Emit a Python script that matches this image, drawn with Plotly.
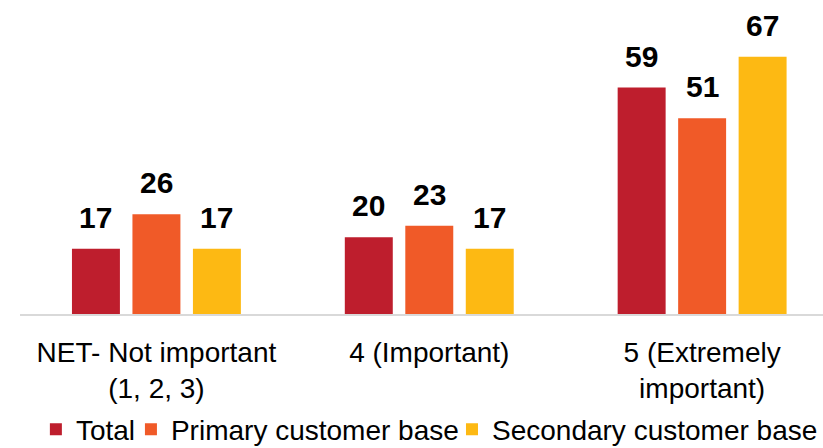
import plotly.graph_objects as go

categories = ["NET- Not important<br>(1, 2, 3)", "4 (Important)", "5 (Extremely<br>important)"]
series_names = ["Total", "Primary customer base", "Secondary customer base"]
total = [17, 20, 59]
primary = [26, 23, 51]
secondary = [17, 17, 67]
colors = ["#BE1E2D", "#F05A28", "#FDB913"]

BARGAP = 0.335
BARGROUPGAP = 0.207
FONT = "Liberation Sans, Arial, sans-serif"

# each series gets its own legend box so the entries can be spaced freely
legend_ids = ["legend", "legend2", "legend3"]
legend_x = [0.0436, 0.1591, 0.5492]

fig = go.Figure()
all_series = [total, primary, secondary]
for name, vals, col, lid in zip(series_names, all_series, colors, legend_ids):
    fig.add_trace(go.Bar(
        x=categories, y=vals, name=name, legend=lid,
        marker=dict(color=col, line=dict(width=0)),
    ))

# value labels above each bar, centred on the bar's slot in the group
n = len(all_series)
slot = (1 - BARGAP) / n
for i, vals in enumerate(all_series):
    off = (i - (n - 1) / 2) * slot
    for j, v in enumerate(vals):
        fig.add_annotation(
            x=j + off, y=v, xref="x", yref="y",
            text=f"<b>{v}</b>", showarrow=False,
            yanchor="bottom", yshift=13,
            font=dict(family=FONT, size=30, color="#000000"),
        )

legend_style = {}
for lid, lx in zip(legend_ids, legend_x):
    legend_style[lid] = dict(
        orientation="h", xref="container", yref="container",
        x=lx, xanchor="left", y=0.041, yanchor="middle",
        font=dict(family=FONT, size=28, color="#000000"),
        bgcolor="rgba(0,0,0,0)",
    )

fig.update_layout(
    width=823, height=448,
    margin=dict(l=20, r=0, t=0, b=134, autoexpand=False),
    paper_bgcolor="white", plot_bgcolor="white",
    barmode="group", bargap=BARGAP, bargroupgap=BARGROUPGAP,
    font=dict(family=FONT, color="#000000"),
    showlegend=True,
    xaxis=dict(
        range=[-0.5, 2.443], showgrid=False, zeroline=False, automargin=False,
        showline=True, linecolor="#D9D9D9", linewidth=2,
        ticks="", ticklabelstandoff=12,
        tickfont=dict(family=FONT, size=28, color="#000000"),
    ),
    yaxis=dict(
        range=[0, 81.8], visible=False, showgrid=False, zeroline=False,
        automargin=False,
    ),
    **legend_style,
)

fig.write_html("out.html")
